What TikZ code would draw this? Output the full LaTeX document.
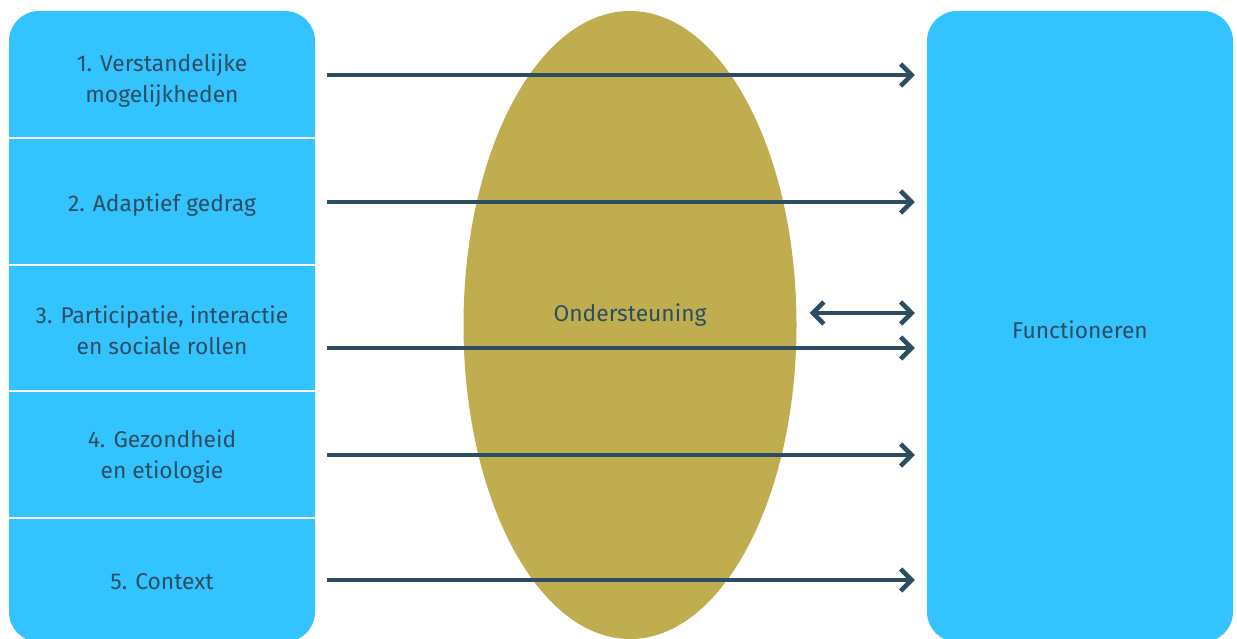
\documentclass[tikz,border=0pt]{standalone}
\usepackage{fontspec}
\setmainfont{Fira Sans}
\usetikzlibrary{arrows.meta,calc,shapes.geometric}
\definecolor{boxblue}{HTML}{33C3FF}
\definecolor{ovalgold}{HTML}{BFAD4F}
\definecolor{ink}{HTML}{2D4E62}
\tikzset{
  txt/.style={text=ink, font=\fontsize{22.8}{31}\selectfont},
  seg/.style={txt, rectangle, minimum width=306pt, minimum height=127pt, inner sep=0pt, align=center},
  arr/.style={draw=ink, line width=4.5pt, -{Straight Barb[length=11pt,width=22pt]}},
  darr/.style={draw=ink, line width=4.5pt, {Straight Barb[length=11pt,width=22pt]}-{Straight Barb[length=11pt,width=22pt]}},
  sepline/.style={draw=white, line width=2pt}
}
\begin{document}
\begin{tikzpicture}[x=1pt,y=-1pt]
\useasboundingbox (0,0) rectangle (1237,639);
% left column box
\fill[boxblue, rounded corners=30pt] (9,11) rectangle (315,642);
% right box
\node[rectangle, fill=boxblue, rounded corners=30pt, minimum width=306pt, minimum height=631pt, inner sep=0pt] (func) at (1080,326.5) {};
\node[txt] (functxt) at (1080,330) {Functioneren};
% ellipse
\node[ellipse, fill=ovalgold, minimum width=333pt, minimum height=628pt, inner sep=0pt] (ell) at (630,325) {};
\node[txt] (ondtxt) at (630,315) {Ondersteuning};
% segments
\node[seg] (s1) at (162,81) {1. Verstandelijke\\mogelijkheden};
\node[seg] (s2) at (162,205) {2. Adaptief gedrag};
\node[seg] (s3) at (162,330) {3. Participatie, interactie\\en sociale rollen};
\node[seg] (s4) at (162,457) {4. Gezondheid\\en etiologie};
\node[seg] (s5) at (162,582) {5. Context};
% separators
\foreach \y in {138,265,391,518} \draw[sepline] (9,\y) -- (315,\y);
% arrows
\draw[arr] ([xshift=12pt,yshift=6pt]s1.east) -- ([xshift=-12pt,yshift=6pt]s1.east -| func.west);
\draw[arr] ([xshift=12pt,yshift=3pt]s2.east) -- ([xshift=-12pt,yshift=3pt]s2.east -| func.west);
\draw[arr] ([xshift=12pt,yshift=-18pt]s3.east) -- ([xshift=-12pt,yshift=-18pt]s3.east -| func.west);
\draw[arr] ([xshift=12pt,yshift=2pt]s4.east) -- ([xshift=-12pt,yshift=2pt]s4.east -| func.west);
\draw[arr] ([xshift=12pt,yshift=2pt]s5.east) -- ([xshift=-12pt,yshift=2pt]s5.east -| func.west);
\draw[darr] ([xshift=13pt,yshift=2pt]ell.east |- ondtxt.center) -- ([xshift=-12pt,yshift=2pt]ondtxt.center -| func.west);
\end{tikzpicture}
\end{document}
